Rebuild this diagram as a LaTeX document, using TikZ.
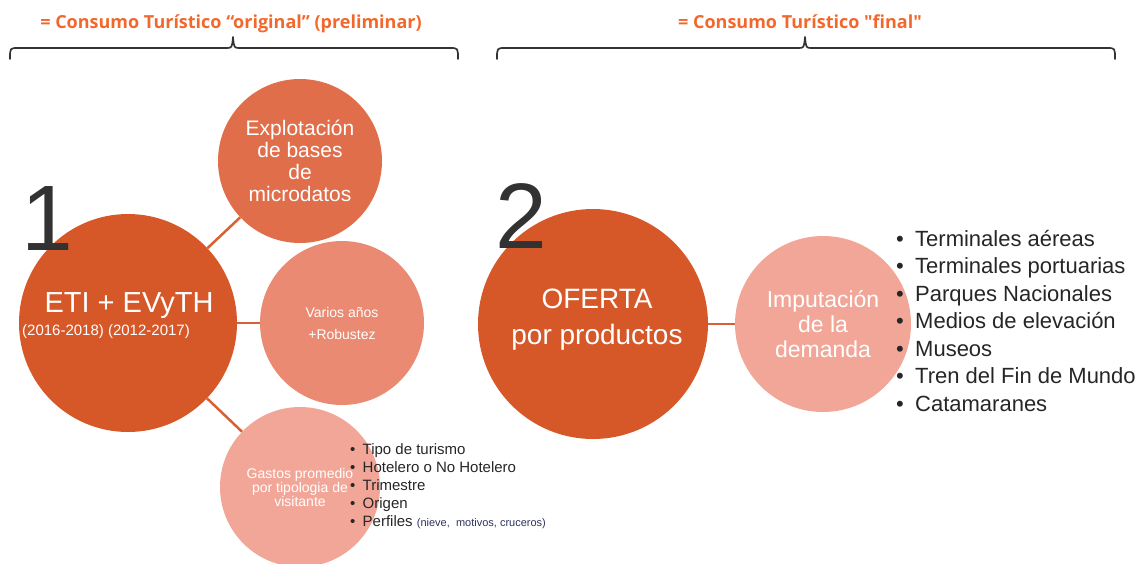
\documentclass[tikz,border=0pt]{standalone}
\usepackage{fontspec}
\setmainfont{Liberation Sans}
\newfontfamily\hdrfont{Open Sans}
\definecolor{cbig}{RGB}{214,88,40}
\definecolor{cexp}{RGB}{224,110,75}
\definecolor{cvar}{RGB}{234,138,114}
\definecolor{cpink}{RGB}{242,166,152}
\definecolor{linkc}{RGB}{217,96,50}
\definecolor{hdrc}{RGB}{242,104,44}
\definecolor{bracec}{RGB}{51,51,51}
\definecolor{digitc}{RGB}{50,50,50}
\definecolor{listc}{RGB}{38,38,38}
\definecolor{navyc}{RGB}{45,50,95}
\newcommand{\bulA}{\makebox[12.5pt][l]{•}}
\newcommand{\bulB}{\makebox[19pt][l]{•}}
\begin{document}
\begin{tikzpicture}[x=1pt,y=-1pt,
  circ/.style={circle, inner sep=0pt, align=center, text=white},
  conn/.style={draw=linkc, line width=2.5pt},
  hdr/.style={text=hdrc, font=\hdrfont\bfseries\fontsize{18}{20}\selectfont, inner sep=0pt, anchor=base},
  bracepath/.style={draw=bracec, line width=1.7pt, line cap=round, line join=round},
  bigdigit/.style={text=digitc, font=\fontsize{93}{93}\selectfont, inner sep=0pt, anchor=base west},
  litem/.style={text=listc, font=\fontsize{15}{15}\selectfont, inner sep=0pt, anchor=base west},
  ritem/.style={text=listc, font=\fontsize{22}{22}\selectfont, inner sep=0pt, anchor=base west}
]
\useasboundingbox (0,0) rectangle (1148,563);

% headers and brackets
\node[hdr] (h1) at (231,28) {= Consumo Turístico “original” (preliminar)};
\node[hdr] (h2) at (800,28) {= Consumo Turístico "final"};
\draw[bracepath] (10,59) .. controls (10,48) .. (18,48) -- (226,48)
  .. controls (232,48) .. (233,37) .. controls (234,48) .. (240,48)
  -- (450,48) .. controls (458,48) .. (458,59);
\draw[bracepath] (497,59) .. controls (497,48) .. (505,48) -- (798,48)
  .. controls (804,48) .. (805,37) .. controls (806,48) .. (812,48)
  -- (1107,48) .. controls (1115,48) .. (1115,59);

% circles
\node[circ, fill=cbig, minimum size=218pt] (eti) at (128,323) {};
\node[circ, fill=cexp, minimum size=164pt, font=\fontsize{21}{22}\selectfont] (expl) at (300,161) {Explotación\\de bases\\de\\microdatos};
\node[circ, fill=cvar, minimum size=164pt, font=\fontsize{14}{22}\selectfont] (var) at (342,323) {Varios años\\+Robustez};
\node[circ, fill=cpink, minimum size=160pt, font=\fontsize{14}{14}\selectfont] (gas) at (300,487) {Gastos promedio\\por tipologia de\\visitante};
\node[circ, fill=cbig, minimum size=230pt] (ofe) at (593,324) {};
\node[circ, fill=cpink, minimum size=176pt, font=\fontsize{23}{25}\selectfont] (imp) at (823,324) {Imputación\\de la\\demanda};

% texts of the big circles
\node[text=white, font=\fontsize{29}{29}\selectfont, anchor=base, inner sep=0pt] (etit) at (129,312) {ETI + EVyTH};
\node[text=white, font=\fontsize{15}{15}\selectfont, anchor=base west, inner sep=0pt] (etiy) at (22,335) {(2016-2018) (2012-2017)};
\node[text=white, font=\fontsize{28}{28}\selectfont, anchor=base, inner sep=0pt] (ofa) at (597,308) {OFERTA};
\node[text=white, font=\fontsize{28}{28}\selectfont, anchor=base, inner sep=0pt] (ofb) at (597,344) {por productos};

% big numbers
\node[bigdigit] (n1) at (21,250) {1};
\node[bigdigit] (n2) at (495,248) {2};

% connectors
\draw[conn] (eti) -- (expl);
\draw[conn] (eti) -- (var);
\draw[conn] (eti) -- (gas);
\draw[conn] (ofe) -- (imp);

% left list
\node[litem] (la) at (350,454) {\bulA Tipo de turismo};
\node[litem] (lb) at (350,472) {\bulA Hotelero o No Hotelero};
\node[litem] (lc) at (350,490) {\bulA Trimestre};
\node[litem] (ld) at (350,508) {\bulA Origen};
\node[litem] (le) at (350,526) {\bulA Perfiles {\fontsize{11}{11}\selectfont\color{navyc}(nieve,\ \ motivos, cruceros)}};

% right list
\node[ritem] (ra) at (896,246) {\bulB Terminales aéreas};
\node[ritem] (rb) at (896,273.5) {\bulB Terminales portuarias};
\node[ritem] (rc) at (896,301) {\bulB Parques Nacionales};
\node[ritem] (rd) at (896,328.5) {\bulB Medios de elevación};
\node[ritem] (re) at (896,356) {\bulB Museos};
\node[ritem] (rf) at (896,383.5) {\bulB Tren del Fin de Mundo};
\node[ritem] (rg) at (896,411) {\bulB Catamaranes};
\end{tikzpicture}
\end{document}
